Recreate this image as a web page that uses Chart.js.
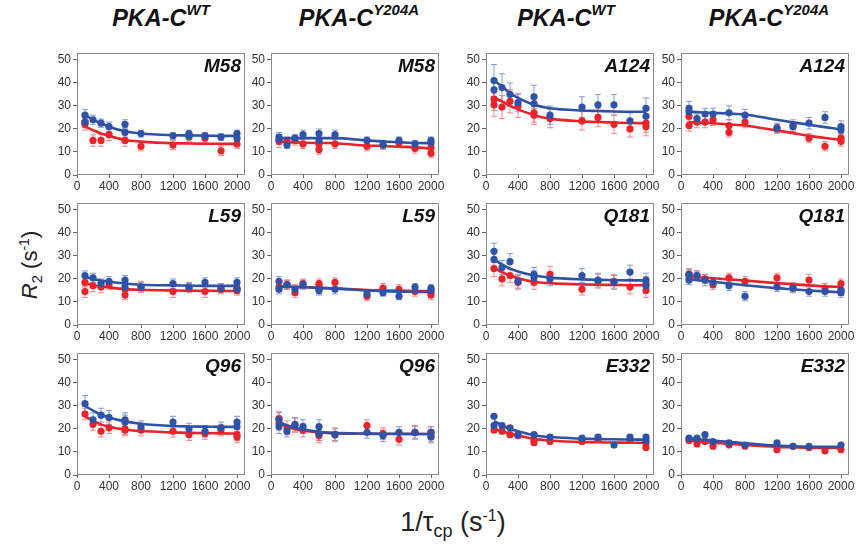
<!DOCTYPE html>
<html>
<head>
<meta charset="utf-8">
<script src="https://cdn.jsdelivr.net/npm/chart.js@4.4.1/dist/chart.umd.min.js"></script>
<style>
  html, body { margin: 0; padding: 0; background: #ffffff; }
  #wrap { position: relative; width: 859px; height: 545px; overflow: hidden; font-family: "Liberation Sans", Arial, sans-serif; }
  canvas.panel { position: absolute; }
  .coltitle { position: absolute; top: 5px; font-weight: bold; font-style: italic; font-size: 23.5px; color: #111; transform: translateX(-50%); white-space: nowrap; }
  .coltitle sup { font-size: 15px; position: relative; top: -2px; }
  .plabel { position: absolute; font-weight: bold; font-style: italic; font-size: 19px; color: #111; white-space: nowrap; line-height: 19px; }
  #ylab { position: absolute; left: 30px; top: 265px; transform: translate(-50%, -50%) rotate(-90deg); font-size: 22px; color: #222; white-space: nowrap; }
  #xlab { position: absolute; left: 453px; top: 522px; transform: translate(-50%, -50%); font-size: 27px; color: #222; white-space: nowrap; }
  sub, sup { line-height: 0; }
</style>
</head>
<body>
<div id="wrap">
  <div class="coltitle" style="left:161px">PKA-C<sup>WT</sup></div>
  <div class="coltitle" style="left:359px">PKA-C<sup>Y204A</sup></div>
  <div class="coltitle" style="left:566px">PKA-C<sup>WT</sup></div>
  <div class="coltitle" style="left:769px">PKA-C<sup>Y204A</sup></div>
  <div id="ylab"><i>R</i><sub style="font-size:15px">2</sub> (s<sup style="font-size:14px">-1</sup>)</div>
  <div id="xlab">1/τ<sub style="font-size:18px">cp</sub> (s<sup style="font-size:16px">-1</sup>)</div>
</div>
<script>
// ---- tick labels ----
const xTicks = [0, 400, 800, 1200, 1600, 2000];
const yTicks = [0, 10, 20, 30, 40, 50];

// x positions of the fitted curves
const fitX = [100, 200, 300, 400, 600, 800, 1200, 1400, 1600, 1800, 2000];

// ---- panel labels ----
const residues = ["M58", "M58", "A124", "A124", "L59", "L59", "Q181", "Q181", "Q96", "Q96", "E332", "E332"];

// ---- data: [x, R2, error] ----
// M58 WT
const m58WtBlue = [[100,26,2.5],[100,23,2],[200,24,2],[300,22.5,1.8],[400,21,2],[600,22,2],[600,18.5,2],[800,18,1.5],[1200,17,1.5],[1400,18,1.5],[1400,17,1.5],[1600,17,1.5],[1800,16.5,1.5],[2000,18,1.5],[2000,16,1.5]];
const m58WtRed = [[100,23,2.5],[100,22,2.5],[200,15,2.5],[300,15,2.5],[400,17.5,2.5],[600,15,2.5],[800,12.5,2],[1200,13,2],[1400,16.5,2],[1600,16,2],[1800,10.5,2],[2000,13.5,2]];
const m58WtBlueFit = [26,24,22.5,21,19,18,17.3,17.2,17.1,17,17];
const m58WtRedFit = [21,19.5,18,17,15.2,14.5,13.8,13.7,13.6,13.5,13.5];
// M58 Y204A
const m58MutBlue = [[100,16.5,2],[100,15.5,2],[200,13,1.5],[300,16,1.5],[400,17.5,2],[600,18,2],[600,15,2],[800,17.5,2],[1200,15,1.5],[1400,13,1.5],[1600,15,1.5],[1800,13.5,1.5],[2000,15,1.5],[2000,14,1.5]];
const m58MutRed = [[100,14.5,2.5],[200,14.5,2],[300,15,2],[400,13.5,2],[600,11,2],[600,13.5,2],[800,13.5,2],[1200,12.5,2],[1400,13,2],[1600,14,2],[1800,11.5,2],[2000,9.5,2],[2000,12,2]];
const m58MutBlueFit = [16,16,16,16,16,16,15,14.6,14.2,13.9,13.8];
const m58MutRedFit = [14.5,14.3,14.1,14,13.9,13.8,12.8,12.6,12.3,12,11.5];
// A124 WT
const a124WtBlue = [[100,41,7],[100,37,5],[200,38,6],[300,35,5],[400,31.5,4],[600,34,5],[600,31,4],[800,26,4],[1200,29.5,4.5],[1400,30.5,4.5],[1600,30.5,4.5],[1800,23.5,3.5],[2000,29,4.5],[2000,25.5,4]];
const a124WtRed = [[100,33,5],[100,30.5,5],[200,29.5,5],[300,32,5],[400,30,5],[600,27,4],[600,26,4],[800,24.5,4],[1200,23.5,4],[1400,25,4],[1600,22,4],[1800,20,3.5],[2000,22.5,4],[2000,21,4]];
const a124WtBlueFit = [41,38.5,35.5,33.5,30.5,29,28,27.8,27.6,27.5,27.5];
const a124WtRedFit = [33.5,32,30,28.5,26,24.5,23.3,23,22.8,22.6,22.5];
// A124 Y204A
const a124MutBlue = [[100,29,3],[100,27.5,2.5],[200,24.5,2],[300,26.5,2.5],[400,26.5,2.5],[600,27,3],[800,26,2.5],[1200,20.5,2],[1400,21,2],[1600,22.5,2.5],[1800,25,2.5],[2000,21,2.5],[2000,19.5,2]];
const a124MutRed = [[100,25.5,2.5],[100,21.5,2.5],[200,23,2.5],[300,23,2.5],[400,24,2.5],[600,21.5,2.5],[600,18.5,2],[800,23,2.5],[1200,20,2],[1400,21.5,2.5],[1600,16,2],[1800,12.5,2],[2000,16,2],[2000,14.5,2]];
const a124MutBlueFit = [27.5,27.3,27.1,27,26.7,26.3,24,22.9,21.8,20.8,19.8];
const a124MutRedFit = [23,22.8,22.7,22.5,22,21.5,19.3,18.2,17,16.1,15.3];
// L59 WT
const l59WtBlue = [[100,21.5,2],[200,20.5,2],[300,18,2],[400,19,2],[600,19.5,2],[600,16.5,2],[800,16.5,2],[1200,18,2],[1400,16.5,2],[1600,18.5,2],[1800,16,2],[2000,18.5,2],[2000,15.5,2]];
const l59WtRed = [[100,18.5,2],[100,14.5,2.5],[200,17,2.5],[300,16.5,2.5],[400,17.5,2],[600,13,2],[600,15.5,2],[800,16.5,2.5],[1200,14.5,2.5],[1400,16,2],[1600,14.5,2.5],[1800,15.5,2],[2000,16,2],[2000,15,2]];
const l59WtBlueFit = [21,20,19.3,18.8,18,17.5,17.2,17.1,17,17,17];
const l59WtRedFit = [18.2,17.3,16.7,16.3,15.6,15.3,15,14.9,14.9,14.8,14.8];
// L59 Y204A
const l59MutBlue = [[100,19,2],[100,15.5,2],[200,17.5,2],[300,15.5,2],[400,17.5,2],[600,15.5,2],[600,15,2],[800,15.5,2],[1200,13.5,1.5],[1400,14,1.5],[1600,12.5,1.5],[1800,16.5,1.5],[2000,16,1.5],[2000,15,1.5]];
const l59MutRed = [[100,16.5,2],[200,17.5,2],[300,14,2],[400,18,2],[600,18,2],[600,17,2],[800,18.5,2],[1200,12.5,2],[1400,16,2],[1600,15.5,2],[1800,14.5,2],[2000,14,2],[2000,13,2]];
const l59MutBlueFit = [16.5,16.5,16.5,16.4,16.1,15.8,15,14.7,14.5,14.4,14.3];
const l59MutRedFit = [16.7,16.7,16.6,16.5,16.2,15.9,15.2,15,14.9,14.8,14.8];
// Q181 WT
const q181WtBlue = [[100,32,3.5],[100,28.5,3],[200,25,3],[300,27.5,3.5],[400,19,3],[600,22,3],[600,20.5,3],[800,20,3],[1200,21.5,3],[1400,19.5,3],[1600,18.5,3],[1800,23,3],[2000,19.5,3],[2000,17,3]];
const q181WtRed = [[100,24.5,3.5],[200,20,3],[300,21.5,3],[400,18.5,3],[600,18.5,3],[800,22,3.5],[1200,15.5,2.5],[1400,19,3],[1600,19,3],[1800,16.5,3],[2000,18,3],[2000,15,3]];
const q181WtBlueFit = [28.5,26.3,24.5,23.2,21.5,20.6,19.8,19.6,19.5,19.4,19.4];
const q181WtRedFit = [24.8,23,21.5,20.3,18.8,18.2,17.6,17.5,17.4,17.3,17.3];
// Q181 Y204A
const q181MutBlue = [[100,22,2],[100,19.5,2],[200,21.5,2],[300,19.5,2.5],[400,18.5,2],[600,17,2],[800,12.5,2],[1200,16.5,2],[1400,16,2],[1600,14.5,2],[1800,14.5,2],[2000,15,2],[2000,14,2]];
const q181MutRed = [[100,22,2.5],[100,21,2.5],[200,21.5,2],[300,20,2],[400,17.5,2],[600,20.5,2],[800,19,2],[1200,20.5,2],[1400,16.5,2],[1600,19.5,2.5],[1800,16,2],[2000,18,2],[2000,15,2]];
const q181MutBlueFit = [19.8,19.5,19.1,18.8,18,17.3,16,15.5,15,14.6,14.2];
const q181MutRedFit = [21,20.8,20.5,20.3,19.8,19.3,18.2,17.7,17.2,16.8,16.5];
// Q96 WT
const q96WtBlue = [[100,31,3.5],[200,24,3],[300,26,3],[400,25,3],[600,24,3],[600,23,3],[800,21,2.5],[1200,23,2.5],[1400,20,2.5],[1600,19,2.5],[1800,20.5,2.5],[2000,23,2.5],[2000,21,2.5]];
const q96WtRed = [[100,26.5,2.5],[200,22,2.5],[300,19,2.5],[400,20.5,2.5],[600,19.5,2.5],[600,20,2.5],[800,19.5,2.5],[1200,19,2.5],[1400,17.5,2.5],[1600,18,2.5],[1800,19.5,2.5],[2000,17.5,2.5],[2000,16.5,2.5]];
const q96WtBlueFit = [30,28,26.3,25,23.3,22.3,21.3,21.1,21,20.9,20.9];
const q96WtRedFit = [25.5,23.5,22,21,19.8,19.1,18.5,18.3,18.2,18.1,18];
// Q96 Y204A
const q96MutBlue = [[100,24,3],[100,21,3],[200,19,2.5],[300,22,3],[400,21,3],[600,21,3],[600,18,3],[800,17.5,2.5],[1200,18.5,2.5],[1400,17,2.5],[1600,18.5,2.5],[1800,18.5,2.5],[2000,18.5,2.5],[2000,16.5,2.5]];
const q96MutRed = [[100,24.5,3],[100,22.5,3],[200,20.5,3],[300,21.5,3],[400,19.5,3],[600,17,3],[600,18,3],[800,17.5,3],[1200,21.5,2.5],[1400,18,2.5],[1600,15.5,2.5],[1800,18.5,3],[2000,18.5,2.5],[2000,17,2.5]];
const q96MutBlueFit = [23,21.5,20.5,19.8,18.8,18.3,18,17.9,17.9,17.8,17.8];
const q96MutRedFit = [22.5,21,20,19.3,18.5,18.1,17.9,17.8,17.8,17.8,17.8];
// E332 WT
const e332WtBlue = [[100,25.5,1],[100,21.5,1],[200,21.5,1],[300,20.5,1],[400,17.5,1],[600,17.5,1],[800,16.5,1],[1200,16,1],[1400,16.5,1],[1600,13,1],[1800,16.5,1],[2000,16.5,1],[2000,15,1]];
const e332WtRed = [[100,19.5,1],[200,19,1],[300,17.5,1],[400,17,1],[600,15,1],[600,14,1],[800,14.5,1],[1200,14.5,1],[1400,15.5,1],[1800,15,1],[2000,14,1],[2000,12,1]];
const e332WtBlueFit = [23.5,21.5,20,19,17.3,16.5,15.8,15.6,15.5,15.4,15.3];
const e332WtRedFit = [20,19,18,17.2,15.7,15,14.3,14.2,14.1,14,14];
// E332 Y204A
const e332MutBlue = [[100,16,0.8],[200,16,0.8],[300,17.5,0.8],[400,14.5,0.8],[600,14,0.8],[800,13,0.8],[1200,14,0.8],[1400,12.5,0.8],[1600,12.5,0.8],[2000,13,0.8]];
const e332MutRed = [[100,15,0.8],[200,13.5,0.8],[300,14.5,0.8],[400,12.5,0.8],[600,13,0.8],[800,12.5,0.8],[1200,11,0.8],[1400,12.5,0.8],[1600,12,0.8],[1800,10.5,0.8],[2000,11,0.8]];
const e332MutBlueFit = [16,15.6,15.3,15,14.4,13.8,12.8,12.5,12.3,12.2,12.2];
const e332MutRedFit = [15,14.6,14.3,14,13.5,13,12.2,12,11.8,11.7,11.7];

const seriesBlue = [m58WtBlue, m58MutBlue, a124WtBlue, a124MutBlue, l59WtBlue, l59MutBlue, q181WtBlue, q181MutBlue, q96WtBlue, q96MutBlue, e332WtBlue, e332MutBlue];
const seriesRed = [m58WtRed, m58MutRed, a124WtRed, a124MutRed, l59WtRed, l59MutRed, q181WtRed, q181MutRed, q96WtRed, q96MutRed, e332WtRed, e332MutRed];
const fitsBlue = [m58WtBlueFit, m58MutBlueFit, a124WtBlueFit, a124MutBlueFit, l59WtBlueFit, l59MutBlueFit, q181WtBlueFit, q181MutBlueFit, q96WtBlueFit, q96MutBlueFit, e332WtBlueFit, e332MutBlueFit];
const fitsRed = [m58WtRedFit, m58MutRedFit, a124WtRedFit, a124MutRedFit, l59WtRedFit, l59MutRedFit, q181WtRedFit, q181MutRedFit, q96WtRedFit, q96MutRedFit, e332WtRedFit, e332MutRedFit];

// ---- layout ----
const colLeft = [77, 271, 486, 681];
const rowTop = [53, 203, 353];
const areaW = 168, areaH = 122;
const yW = 34, xH = 22, pad = 10;

const BLUE = '#2d52a8', RED = '#e8232a';
const BLUE_ERR = 'rgba(100,135,210,0.8)', RED_ERR = 'rgba(242,110,110,0.8)';

const frameAndErrors = {
  id: 'frameAndErrors',
  beforeDatasetsDraw(chart) {
    const ctx = chart.ctx, xs = chart.scales.x, ys = chart.scales.y;
    ctx.save();
    chart.data.datasets.forEach(ds => {
      if (!ds.errs) return;
      ctx.strokeStyle = ds.errColor;
      ctx.lineWidth = 1;
      ds.data.forEach((p, i) => {
        const e = ds.errs[i];
        const px = xs.getPixelForValue(p.x);
        const top = ys.getPixelForValue(p.y + e), bot = ys.getPixelForValue(p.y - e);
        ctx.beginPath();
        ctx.moveTo(px, top); ctx.lineTo(px, bot);
        ctx.moveTo(px - 3, top); ctx.lineTo(px + 3, top);
        ctx.moveTo(px - 3, bot); ctx.lineTo(px + 3, bot);
        ctx.stroke();
      });
    });
    ctx.restore();
  },
  afterDraw(chart) {
    const a = chart.chartArea, ctx = chart.ctx;
    ctx.save();
    ctx.strokeStyle = '#8a8a8a';
    ctx.lineWidth = 1;
    ctx.strokeRect(Math.round(a.left) + 0.5, Math.round(a.top) + 0.5, Math.round(a.right - a.left) - 1, Math.round(a.bottom - a.top) - 1);
    ctx.restore();
  }
};

const wrap = document.getElementById('wrap');
for (let i = 0; i < 12; i++) {
  const r = Math.floor(i / 4), c = i % 4;
  const left = colLeft[c], top = rowTop[r];
  const cv = document.createElement('canvas');
  cv.className = 'panel';
  cv.width = yW + areaW + pad; cv.height = pad + areaH + xH;
  cv.style.left = (left - yW) + 'px';
  cv.style.top = (top - pad) + 'px';
  cv.style.width = cv.width + 'px';
  cv.style.height = cv.height + 'px';
  wrap.appendChild(cv);

  const lab = document.createElement('div');
  lab.className = 'plabel';
  lab.textContent = residues[i];
  lab.style.right = (859 - (left + areaW - 4)) + 'px';
  lab.style.top = (top + 3) + 'px';
  wrap.appendChild(lab);

  const pts = s => s.map(p => ({x: p[0], y: p[1]}));
  const errs = s => s.map(p => p[2]);
  const fit = f => fitX.map((x, k) => ({x: x, y: f[k]}));

  new Chart(cv, {
    type: 'scatter',
    data: {
      datasets: [
        { data: pts(seriesBlue[i]), errs: errs(seriesBlue[i]), errColor: BLUE_ERR, backgroundColor: BLUE, borderColor: BLUE, pointRadius: 3.6, borderWidth: 0, showLine: false, order: 1 },
        { data: fit(fitsBlue[i]), type: 'line', borderColor: BLUE, borderWidth: 2.6, pointRadius: 0, fill: false, cubicInterpolationMode: 'monotone', order: 2 },
        { data: pts(seriesRed[i]), errs: errs(seriesRed[i]), errColor: RED_ERR, backgroundColor: RED, borderColor: RED, pointRadius: 3.6, borderWidth: 0, showLine: false, order: 3 },
        { data: fit(fitsRed[i]), type: 'line', borderColor: RED, borderWidth: 2.6, pointRadius: 0, fill: false, cubicInterpolationMode: 'monotone', order: 4 }
      ]
    },
    options: {
      responsive: false,
      animation: false,
      events: [],
      layout: { padding: { top: pad, right: pad, left: 0, bottom: 0 } },
      plugins: { legend: { display: false }, tooltip: { enabled: false }, title: { display: false } },
      scales: {
        x: {
          type: 'linear', min: 0, max: 2100,
          afterBuildTicks: s => { s.ticks = xTicks.map(v => ({value: v})); },
          afterFit: s => { s.height = xH; },
          grid: { display: true, drawOnChartArea: false, drawTicks: true, tickLength: 3, color: '#666' },
          border: { display: false },
          ticks: { color: '#333', font: { family: 'Liberation Sans', size: 12 }, padding: 1, maxRotation: 0, autoSkip: false, callback: v => String(v) }
        },
        y: {
          type: 'linear', min: 0, max: 53,
          afterBuildTicks: s => { s.ticks = yTicks.map(v => ({value: v})); },
          afterFit: s => { s.width = yW; },
          grid: { display: true, drawOnChartArea: false, drawTicks: true, tickLength: 4, color: '#666' },
          border: { display: false },
          ticks: { color: '#333', font: { family: 'Liberation Sans', size: 12 }, padding: 2, callback: v => String(v) }
        }
      }
    },
    plugins: [frameAndErrors]
  });
}
</script>
</body>
</html>
